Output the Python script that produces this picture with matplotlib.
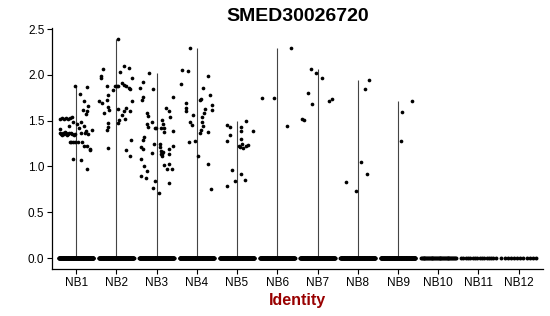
import numpy as np
import matplotlib
matplotlib.use("Agg")
import matplotlib.pyplot as plt

plot_title = "SMED30026720"
x_label = "Identity"

groups = ["NB1", "NB2", "NB3", "NB4", "NB5", "NB6",
          "NB7", "NB8", "NB9", "NB10", "NB11", "NB12"]

# cells with zero expression per group
zero_counts = [160, 160, 160, 160, 160, 160, 160, 160, 160, 40, 16, 12]

# expressing cells: (jitter offset, value)
nb1 = [(-0.04, 1.88), (0.27, 1.87), (0.10, 1.79), (0.19, 1.71), (0.29, 1.66),
       (0.16, 1.62), (0.27, 1.60), (0.24, 1.57), (0.13, 1.48), (0.19, 1.44),
       (0.24, 1.39), (0.30, 1.35), (0.21, 1.36), (0.11, 1.37), (0.06, 1.42),
       (0.01, 1.46), (0.14, 1.27), (0.19, 1.22), (0.26, 1.22), (0.35, 1.19),
       (0.40, 1.40), (-0.40, 1.52), (-0.35, 1.53), (-0.30, 1.52), (-0.25, 1.53),
       (-0.20, 1.52), (-0.15, 1.53), (-0.10, 1.54), (-0.41, 1.36), (-0.37, 1.35),
       (-0.33, 1.37), (-0.29, 1.35), (-0.25, 1.36), (-0.21, 1.35), (-0.17, 1.37),
       (-0.13, 1.36), (-0.09, 1.35), (-0.05, 1.34), (-0.39, 1.41), (-0.35, 1.34),
       (-0.27, 1.38), (-0.23, 1.34), (-0.02, 1.35), (-0.12, 1.27), (-0.07, 1.27),
       (-0.03, 1.27), (-0.17, 1.44), (-0.08, 1.49), (-0.15, 1.27), (0.04, 1.27),
       (-0.08, 1.08), (0.13, 1.07), (0.27, 0.97), (0.35, 1.18)]
nb2 = [(0.03, 2.39), (-0.32, 2.06), (-0.37, 1.99), (-0.39, 1.97), (0.19, 2.10),
       (0.31, 2.07), (0.39, 1.96), (0.09, 2.03), (-0.09, 1.83), (-0.03, 1.88),
       (0.01, 1.88), (0.05, 1.88), (0.15, 1.91), (0.20, 1.89), (0.25, 1.88),
       (0.31, 1.86), (0.35, 1.85), (-0.24, 1.88), (-0.42, 1.71), (-0.36, 1.69),
       (-0.24, 1.73), (-0.22, 1.78), (-0.18, 1.62), (-0.30, 1.58), (-0.20, 1.65),
       (0.03, 1.63), (0.20, 1.61), (0.23, 1.64), (0.15, 1.56), (0.06, 1.51),
       (0.05, 1.47), (0.22, 1.52), (0.38, 1.71), (0.35, 1.60), (-0.22, 1.43),
       (-0.24, 1.40), (-0.21, 1.47), (-0.22, 1.20), (0.37, 1.29), (0.23, 1.18),
       (0.33, 1.11)]
nb3 = [(-0.20, 2.02), (-0.35, 1.92), (-0.41, 1.86), (-0.08, 1.84), (-0.33, 1.76),
       (-0.37, 1.72), (0.40, 1.76), (-0.23, 1.58), (-0.21, 1.55), (0.23, 1.64),
       (0.30, 1.61), (0.33, 1.54), (0.14, 1.51), (0.16, 1.46), (0.10, 1.42),
       (0.18, 1.42), (-0.04, 1.42), (-0.01, 1.42), (-0.24, 1.46), (-0.22, 1.43),
       (-0.12, 1.48), (0.18, 1.38), (0.40, 1.39), (-0.31, 1.32), (-0.35, 1.29),
       (-0.39, 1.21), (-0.33, 1.19), (-0.07, 1.25), (0.08, 1.25), (0.08, 1.21),
       (0.11, 1.17), (0.17, 1.16), (0.13, 1.14), (0.30, 1.19), (0.40, 1.22),
       (0.31, 1.14), (-0.12, 1.15), (-0.39, 1.08), (-0.32, 1.01), (-0.23, 0.95),
       (-0.38, 0.90), (-0.27, 0.87), (-0.05, 0.84), (-0.08, 0.76), (0.06, 0.71),
       (0.13, 1.11), (0.18, 1.02), (0.25, 0.97), (0.30, 1.03), (0.39, 0.97),
       (0.32, 0.82), (0.11, 1.14)]
nb4 = [(-0.17, 2.29), (-0.36, 2.05), (-0.23, 2.04), (-0.40, 1.90), (-0.27, 1.69),
       (-0.26, 1.64), (-0.27, 1.61), (0.15, 1.86), (0.28, 1.99), (0.11, 1.74),
       (0.07, 1.73), (0.33, 1.78), (0.20, 1.63), (0.37, 1.67), (0.37, 1.62),
       (0.18, 1.58), (0.12, 1.54), (-0.09, 1.56), (-0.17, 1.48), (-0.11, 1.45),
       (0.14, 1.49), (0.16, 1.44), (0.10, 1.40), (0.08, 1.37), (0.28, 1.38),
       (-0.20, 1.27), (-0.05, 1.28), (0.02, 1.11), (0.28, 1.03), (0.35, 0.75)]
nb5 = [(-0.26, 1.45), (-0.18, 1.43), (-0.17, 1.34), (-0.24, 1.28), (0.21, 1.50),
       (0.11, 1.43), (0.39, 1.39), (0.10, 1.39), (0.11, 1.30), (0.04, 1.22),
       (0.08, 1.21), (0.13, 1.24), (0.16, 1.20), (0.23, 1.22), (0.26, 1.23),
       (-0.13, 0.96), (0.09, 0.92), (0.19, 0.85), (-0.04, 0.84), (-0.26, 0.79)]
nb6 = [(-0.37, 1.75), (-0.08, 1.75), (0.33, 2.29), (0.23, 1.44)]
nb7 = [(-0.17, 2.06), (-0.03, 2.02), (0.12, 1.97), (-0.23, 1.80), (-0.13, 1.68),
       (-0.39, 1.52), (-0.34, 1.51), (0.29, 1.71), (0.35, 1.74)]
nb8 = [(0.17, 1.85), (0.27, 1.94), (-0.30, 0.83), (-0.05, 0.73), (0.09, 1.05),
       (0.22, 0.92)]
nb9 = [(0.34, 1.71), (0.09, 1.59), (0.07, 1.28)]
expressing = [nb1, nb2, nb3, nb4, nb5, nb6, nb7, nb8, nb9, [], [], []]


def main():
    plt.rcParams['font.family'] = ['Liberation Sans', 'DejaVu Sans']
    fig = plt.figure(figsize=(5.5, 3.16), dpi=100)
    ax = fig.add_axes([0.0945, 0.1487, 0.8925, 0.7623])

    for i, pts in enumerate(expressing):
        # violin collapses to a thin line up to the group maximum
        if pts:
            top = max(v for _, v in pts)
            ax.vlines(i, 0, top, color='#444444', linewidth=0.8, zorder=1)
            ax.scatter([i + o for o, _ in pts], [v for _, v in pts],
                       s=7, color='black', linewidths=0, zorder=3)
        n = zero_counts[i]
        xs = i + np.linspace(-0.43, 0.43, n)
        ax.scatter(xs, np.zeros(n), s=8, color='black', linewidths=0, zorder=3)

    ax.set_xlim(-0.6, len(groups) - 0.4)
    ax.set_ylim(-0.12, 2.51)
    ax.set_xticks(range(len(groups)))
    ax.set_xticklabels(groups, fontsize=8.5)
    ax.set_yticks([0.0, 0.5, 1.0, 1.5, 2.0, 2.5])
    ax.set_yticklabels(["0.0", "0.5", "1.0", "1.5", "2.0", "2.5"], fontsize=8.5)
    ax.tick_params(length=3.5, width=0.8, colors='black', pad=2)

    for side in ['top', 'right']:
        ax.spines[side].set_visible(False)
    for side in ['left', 'bottom']:
        ax.spines[side].set_linewidth(0.9)

    ax.set_xlabel(x_label, fontsize=11.5, fontweight='bold', color='#990000', labelpad=3)
    ax.set_title(plot_title, fontsize=14, fontweight='bold', pad=5)

    fig.savefig("out.png", dpi=100)


if __name__ == '__main__':
    main()
